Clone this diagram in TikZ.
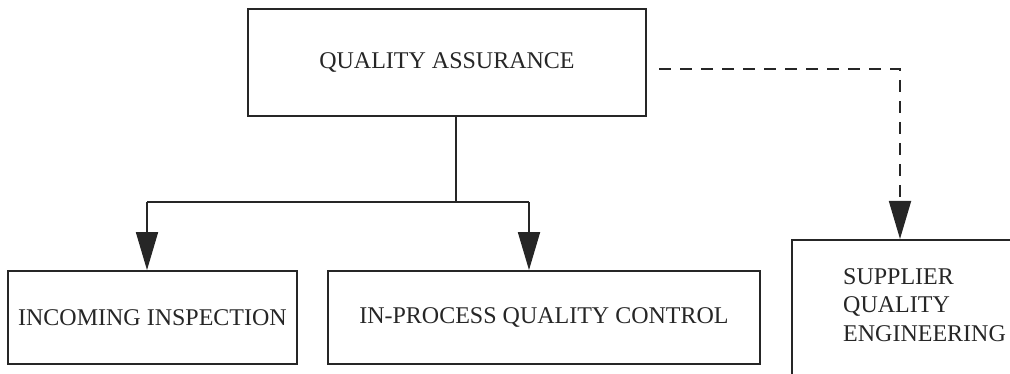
\documentclass[tikz,border=0pt]{standalone}
\usepackage{fontspec}
\setmainfont{Liberation Serif}
\usetikzlibrary{arrows.meta,positioning}
\begin{document}
\begin{tikzpicture}[x=1pt,y=-1pt,
  box/.style={draw=black!85, line width=1.8pt, rectangle, inner sep=0pt, font=\fontsize{24}{28.5}\selectfont},
  conn/.style={draw=black!85, line width=1.8pt},
  tip/.style={-{Triangle[width=22pt,length=38pt]}},
  arr/.style={conn, tip},
  dashconn/.style={draw=black!85, line width=1.8pt, dash pattern=on 12pt off 9pt},
  txt/.style={font=\fontsize{24}{28.5}\selectfont, text=black!85, inner sep=0pt}]
\useasboundingbox (0,0) rectangle (1010,374);
\clip (0,0) rectangle (1010,374);
% boxes
\node[box, minimum width=398pt, minimum height=107pt, text=black!85] (qa) at (447,62.5) {QUALITY ASSURANCE};
\node[box, minimum width=289pt, minimum height=93pt, text=black!85] (inc) at (152.5,317.5) {INCOMING INSPECTION};
\node[box, minimum width=432pt, minimum height=93pt, text=black!85] (ipc) at (544,317.5) {IN-PROCESS QUALITY CONTROL};
\node[box, anchor=north west, minimum width=260pt, minimum height=160pt] (sqe) at (791,239) {};
\node[txt, anchor=north west, align=left] (sqet) at (843,268) {SUPPLIER\\QUALITY\\ENGINEERING};
% connectors
\coordinate (j) at (456,202);
\coordinate (l) at (147,202);
\coordinate (r) at (529,202);
\coordinate (d0) at (659,69);
\coordinate (d1) at (900,69);
\draw[conn] (qa.south -| j) -- (j);
\draw[conn] (l) -- (r);
\draw[arr] (l) -- (l |- inc.north);
\draw[arr] (r) -- (r |- ipc.north);
\draw[dashconn, tip] (d0) -- (d1) -- (d1 |- sqe.north);
\end{tikzpicture}
\end{document}
